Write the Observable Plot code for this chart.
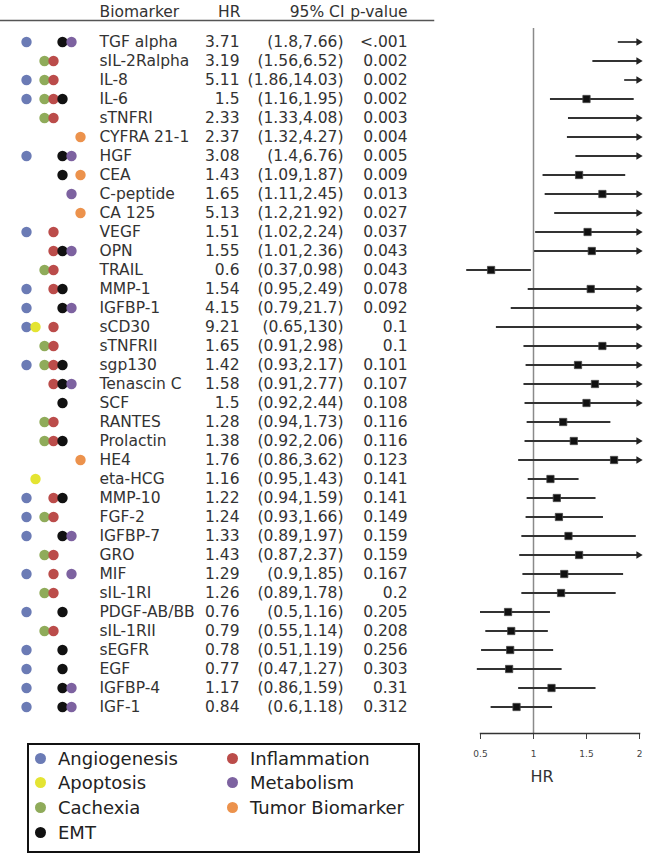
<!DOCTYPE html>
<html><head><meta charset="utf-8">
<script src="https://cdn.jsdelivr.net/npm/d3@7"></script>
<script src="https://cdn.jsdelivr.net/npm/@observablehq/plot@0.6"></script>
<style>
body{margin:0;background:#fff;}
#wrap{position:relative;width:650px;height:863px;font-family:"DejaVu Sans",sans-serif;overflow:hidden;}
#table,#forest{position:absolute;top:0;}
#table{left:0;}
#forest{left:440px;}
#legend{position:absolute;left:27px;top:743px;width:393px;height:110px;box-sizing:border-box;border:2px solid #111;
  display:grid;grid-template-rows:repeat(4,24.6px);grid-auto-flow:column;grid-template-columns:192px auto;padding-top:1px;}
.item{display:flex;align-items:center;font-size:18px;color:#222;white-space:nowrap;}
.sw{width:11px;height:11px;border-radius:50%;margin-left:5.5px;margin-right:12.5px;flex:none;}
</style>
</head><body>
<div id="wrap"><div id="table"></div><div id="forest"></div><div id="legend"></div></div>
<script>
const biomarkers = ["TGF alpha","sIL-2Ralpha","IL-8","IL-6","sTNFRI","CYFRA 21-1","HGF","CEA","C-peptide","CA 125","VEGF","OPN","TRAIL","MMP-1","IGFBP-1","sCD30","sTNFRII","sgp130","Tenascin C","SCF","RANTES","Prolactin","HE4","eta-HCG","MMP-10","FGF-2","IGFBP-7","GRO","MIF","sIL-1RI","PDGF-AB/BB","sIL-1RII","sEGFR","EGF","IGFBP-4","IGF-1"];
const hr = [3.71,3.19,5.11,1.5,2.33,2.37,3.08,1.43,1.65,5.13,1.51,1.55,0.6,1.54,4.15,9.21,1.65,1.42,1.58,1.5,1.28,1.38,1.76,1.16,1.22,1.24,1.33,1.43,1.29,1.26,0.76,0.79,0.78,0.77,1.17,0.84];
const ciLow = [1.8,1.56,1.86,1.16,1.33,1.32,1.4,1.09,1.11,1.2,1.02,1.01,0.37,0.95,0.79,0.65,0.91,0.93,0.91,0.92,0.94,0.92,0.86,0.95,0.94,0.93,0.89,0.87,0.9,0.89,0.5,0.55,0.51,0.47,0.86,0.6];
const ciHigh = [7.66,6.52,14.03,1.95,4.08,4.27,6.76,1.87,2.45,21.92,2.24,2.36,0.98,2.49,21.7,130,2.98,2.17,2.77,2.44,1.73,2.06,3.62,1.43,1.59,1.66,1.97,2.37,1.85,1.78,1.16,1.14,1.19,1.27,1.59,1.18];
const pValues = ["<.001","0.002","0.002","0.002","0.003","0.004","0.005","0.009","0.013","0.027","0.037","0.043","0.043","0.078","0.092","0.1","0.1","0.101","0.107","0.108","0.116","0.116","0.123","0.141","0.141","0.149","0.159","0.159","0.167","0.2","0.205","0.208","0.256","0.303","0.31","0.312"];
const categories = ["Angiogenesis","Apoptosis","Cachexia","Inflammation","EMT","Metabolism","Tumor Biomarker"];
const categoryCodes = ["A","P","C","I","E","M","T"];
const categoryColors = ["#6b7bb5","#e4e432","#8fab5a","#bb4c4a","#111111","#7d62a0","#ec924c"];
const legendOrder = ["Angiogenesis","Apoptosis","Cachexia","EMT","Inflammation","Metabolism","Tumor Biomarker"];
const memberships = ["AEM","CI","ACI","ACIE","CI","T","AEM","ET","M","T","AI","IEM","CI","AIE","AEM","API","CI","ACIE","IEM","E","CI","CIE","T","P","AIE","ACI","AEM","CI","AIM","CI","AE","CI","AE","AE","AEM","AEM"];
const headers = ["Biomarker","HR","95% CI","p-value"];
const xTicks = [0.5,1,1.5,2];
const xAxisLabel = "HR";

const rows = biomarkers.map((b,i)=>({b, hr:hr[i], lo:ciLow[i], hi:ciHigh[i], p:pValues[i], ci:`(${ciLow[i]},${ciHigh[i]})`}));
const dots = rows.flatMap((r,i)=>memberships[i].split("").map(c=>({b:r.b, cat:categories[categoryCodes.indexOf(c)]})));
const yRange = [20.2, 727];
const F = 15.5, ink = "#333";

const table = Plot.plot({
  width:440, height:730, marginTop:20, marginBottom:3, marginLeft:0, marginRight:7,
  style:{fontFamily:"DejaVu Sans", background:"transparent"},
  x:{type:"point", domain:categories, range:[18,87], axis:null},
  y:{type:"band", domain:biomarkers, range:yRange, axis:null},
  color:{domain:categories, range:categoryColors},
  marks:[
    Plot.frame({anchor:"top", stroke:"#555", strokeWidth:1.5}),
    Plot.dot(dots, {x:"cat", y:"b", fill:"cat", r:5.2}),
    Plot.text(rows, {y:"b", text:"b", frameAnchor:"left", dx:99, textAnchor:"start", fontSize:F, fill:ink}),
    Plot.text(rows, {y:"b", text:d=>String(d.hr), frameAnchor:"left", dx:239, textAnchor:"end", fontSize:F, fill:ink}),
    Plot.text(rows, {y:"b", text:"ci", frameAnchor:"left", dx:343, textAnchor:"end", fontSize:F, fill:ink}),
    Plot.text(rows, {y:"b", text:"p", frameAnchor:"left", dx:407, textAnchor:"end", fontSize:F, fill:ink}),
    Plot.text([headers[0]], {frameAnchor:"top-left", dx:99, dy:-8, lineAnchor:"middle", textAnchor:"start", fontSize:F, fill:ink}),
    Plot.text([headers[1]], {frameAnchor:"top-left", dx:240, dy:-8, lineAnchor:"middle", textAnchor:"end", fontSize:F, fill:ink}),
    Plot.text([headers[2]], {frameAnchor:"top-left", dx:344, dy:-8, lineAnchor:"middle", textAnchor:"end", fontSize:F, fill:ink}),
    Plot.text([headers[3]], {frameAnchor:"top-left", dx:407, dy:-8, lineAnchor:"middle", textAnchor:"end", fontSize:F, fill:ink})
  ]
});
document.getElementById("table").append(table);

const forest = Plot.plot({
  width:210, height:790, marginTop:28, marginBottom:57, marginLeft:40, marginRight:11,
  style:{fontFamily:"DejaVu Sans", fontSize:"9px", color:"#444", background:"transparent"},
  x:{domain:[0.5,2], ticks:xTicks, tickSize:6, tickPadding:11, tickFormat:d=>String(d), label:null},
  y:{type:"band", domain:biomarkers, range:yRange, axis:null},
  marks:[
    Plot.ruleX([1], {stroke:"#8a8a8a", strokeWidth:1.5}),
    Plot.frame({anchor:"bottom", stroke:"#333", strokeWidth:1.5}),
    Plot.ruleY(rows, {y:"b", x1:"lo", x2:d=>Math.min(d.hi,2), stroke:"#333", strokeWidth:1.8}),
    Plot.dot(rows.filter(d=>d.hi>2), {y:"b", x:()=>2, symbol:"triangle", rotate:90, r:2.7, fill:"#222", dx:-1}),
    Plot.dot(rows.filter(d=>d.hr>=0.5 && d.hr<=2), {x:"hr", y:"b", symbol:"square", r:4.1, fill:"#111", stroke:"#444", strokeWidth:0.8}),
    Plot.text([xAxisLabel], {frameAnchor:"bottom", dx:-18, dy:43, lineAnchor:"middle", fontSize:16, fill:"#333"})
  ]
});
document.getElementById("forest").append(forest);

const legend = document.getElementById("legend");
legendOrder.forEach(c=>{
  const it = document.createElement("div"); it.className="item";
  const sw = document.createElement("span"); sw.className="sw"; sw.style.background=categoryColors[categories.indexOf(c)];
  const tx = document.createElement("span"); tx.textContent=c;
  it.append(sw, tx); legend.append(it);
});
</script>
</body></html>
